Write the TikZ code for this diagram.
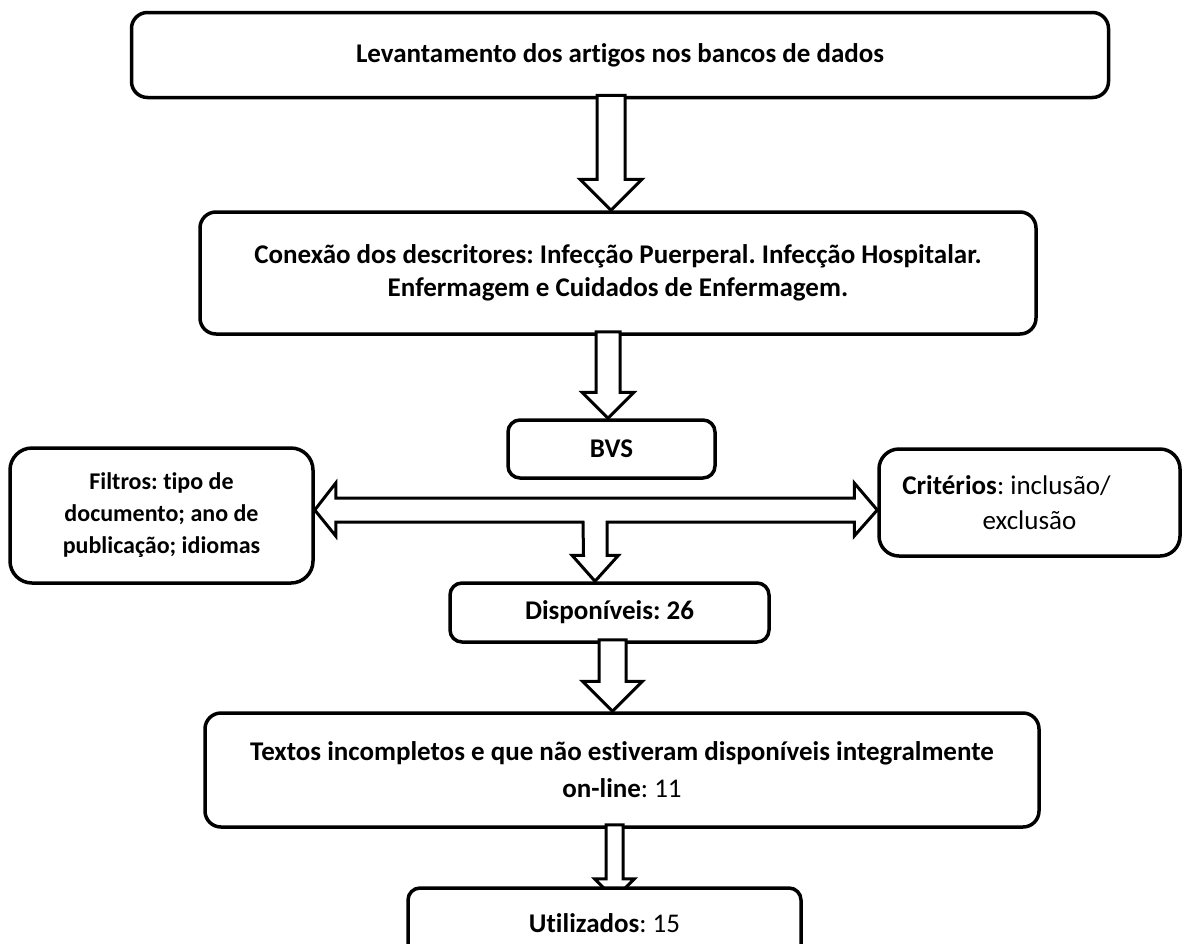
\documentclass[tikz,border=0pt]{standalone}
\usepackage{fontspec}
\setmainfont{Carlito}[Ligatures=NoCommon]
\frenchspacing
\usetikzlibrary{calc}

\newcommand{\blockdown}[4]{%
  \draw[blk] let \p1=#1, \p2=#2 in
    (\x1-#3,\y1) -- (\x1+#3,\y1) -- (\x1+#3,\y2+#4) -- (\x1+#4,\y2+#4)
    -- (\x1,\y2) -- (\x1-#4,\y2+#4) -- (\x1-#3,\y2+#4) -- cycle;}

\begin{document}
\begin{tikzpicture}[
    x=1pt, y=-1pt,
    box/.style={draw=black, line width=3.5pt, rounded corners=16pt, fill=white,
        align=center, inner sep=0pt, font=\fontsize{27}{33}\selectfont},
    blk/.style={draw=black, line width=3pt, fill=white, line join=miter}
]
\useasboundingbox (0,0) rectangle (1183,943);

\node[box, minimum width=977pt, minimum height=85pt] (levant) at (620,55)
    {\textbf{Levantamento dos artigos nos bancos de dados}};
\node[box, minimum width=836pt, minimum height=122pt] (conexao) at (618,273)
    {\textbf{Conexão dos descritores: Infecção Puerperal. Infecção Hospitalar.}\\
     \textbf{Enfermagem e Cuidados de Enfermagem.}};
\node[box, rounded corners=12pt, minimum width=207pt, minimum height=58pt] (bvs) at (611.5,449)
    {\textbf{BVS}};
\node[box, rounded corners=22pt, minimum width=303pt, minimum height=135pt,
    font=\fontsize{24}{32}\selectfont] (filtros) at (161.5,515.5)
    {\textbf{Filtros: tipo de}\\ \textbf{documento; ano de}\\ \textbf{publicação; idiomas}};
\node[box, rounded corners=20pt, minimum width=301pt, minimum height=107pt,
    font=\fontsize{27}{35}\selectfont] (criterios) at (1029.5,502.5)
    {\textbf{Critérios}: inclusão/\hspace*{46pt}\\ exclusão};
\node[box, rounded corners=12pt, minimum width=319pt, minimum height=59pt] (disp) at (609.5,612.5)
    {\textbf{Disponíveis: 26}};
\node[box, minimum width=834pt, minimum height=114pt,
    font=\fontsize{27}{37}\selectfont] (textos) at (622,770)
    {\textbf{Textos incompletos e que não estiveram disponíveis integralmente}\\
     \textbf{on-line}: 11};

\coordinate (hub) at (595,510);

\blockdown{($(levant.south)+(-9,-4)$)}{(conexao.north)}{14}{31}
\blockdown{($(conexao.south)+(-10,-4)$)}{(bvs.north)}{12}{26}
\blockdown{($(disp.south)+(3,-4)$)}{(textos.north)}{13.5}{30}
\blockdown{($(textos.south)+(-7.5,-4)$)}{($(textos.south)+(-7.5,70)$)}{8.5}{20}

\draw[blk] (filtros.east |- hub) -- ++(21,-27) -- ++(0,15)
    -- ($(criterios.west |- hub)+(-23,-12)$) -- ++(0,-15)
    -- (criterios.west |- hub) -- ++(-23,26) -- ++(0,-14)
    -- ($(hub)+(12,12)$) -- ($(disp.north -| hub)+(12,-26)$) -- ++(11.5,0)
    -- (disp.north -| hub) -- ++(-23,-26) -- ++(11.5,0)
    -- ($(hub)+(-12,12)$) -- ($(filtros.east |- hub)+(21,12)$) -- ++(0,14) -- cycle;

\node[box, rounded corners=12pt, minimum width=393pt, minimum height=70pt] (utiliz) at (604.5,923)
    {\textbf{Utilizados}: 15};

\end{tikzpicture}
\end{document}
